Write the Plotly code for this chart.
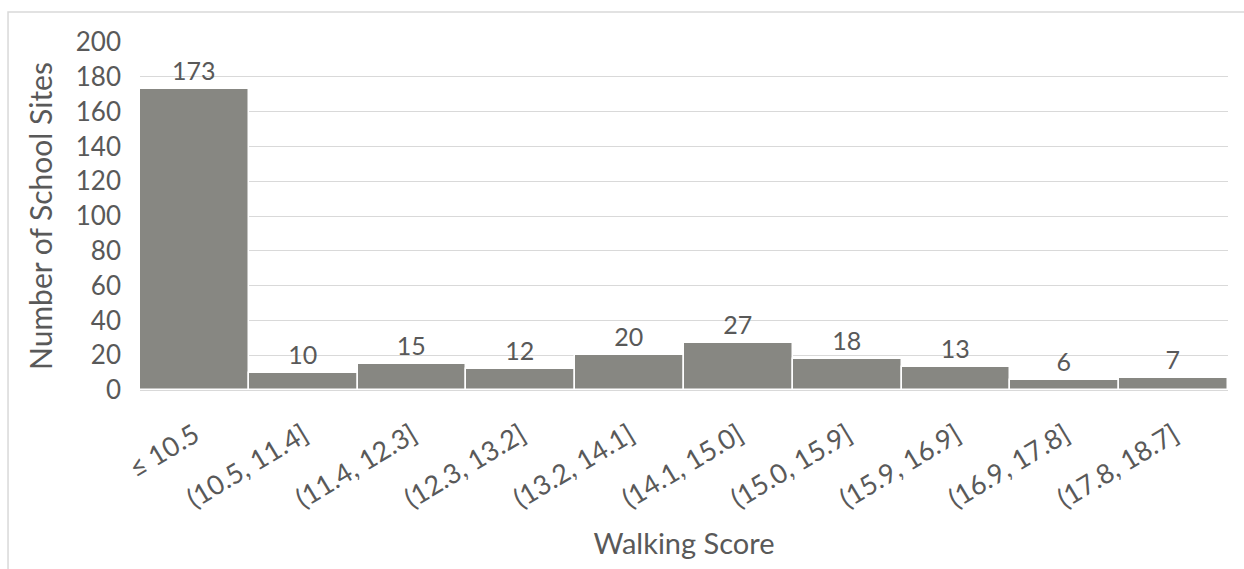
import plotly.graph_objects as go

# Histogram of walking scores across school sites
bins = ["≤ 10.5", "(10.5, 11.4]", "(11.4, 12.3]", "(12.3, 13.2]", "(13.2, 14.1]",
        "(14.1, 15.0]", "(15.0, 15.9]", "(15.9, 16.9]", "(16.9, 17.8]", "(17.8, 18.7]"]
counts = [173, 10, 15, 12, 20, 27, 18, 13, 6, 7]
y_ticks = [0, 20, 40, 60, 80, 100, 120, 140, 160, 180, 200]

FONT = "Lato, 'Open Sans', sans-serif"
TEXT = "#595959"

fig = go.Figure(go.Bar(
    x=bins,
    y=counts,
    marker=dict(color="#878782", line=dict(color="white", width=1.5)),
    text=[str(c) for c in counts],
    textposition="outside",
    textfont=dict(size=25, color=TEXT, family=FONT),
    cliponaxis=False,
))

fig.update_layout(
    width=1244, height=569,
    margin=dict(l=140, r=16, t=42, b=179),
    paper_bgcolor="white", plot_bgcolor="white",
    bargap=0,
    showlegend=False,
    font=dict(family=FONT, color=TEXT),
    xaxis=dict(
        tickangle=-31,
        tickfont=dict(size=27, color=TEXT),
        showgrid=False,
        showline=True, linecolor="#d9d9d9", linewidth=1,
        ticks="", ticklabelstandoff=18,
        title=dict(text="Walking Score", font=dict(size=29, color=TEXT), standoff=20),
    ),
    yaxis=dict(
        range=[0, 200],
        tickvals=y_ticks,
        tickfont=dict(size=26, color=TEXT),
        showgrid=True, gridcolor="#d9d9d9", gridwidth=1,
        zeroline=False, showline=False,
        ticks="", ticklabelstandoff=18,
        title=dict(text="Number of School Sites", font=dict(size=30, color=TEXT), standoff=14),
    ),
    shapes=[dict(
        type="rect", xref="paper", yref="paper",
        x0=-0.1213, x1=1.2, y0=-1.0, y1=1.0862,
        line=dict(color="#d9d9d9", width=1.5), fillcolor="rgba(0,0,0,0)",
        layer="below",
    )],
)

fig.write_html("out.html")
